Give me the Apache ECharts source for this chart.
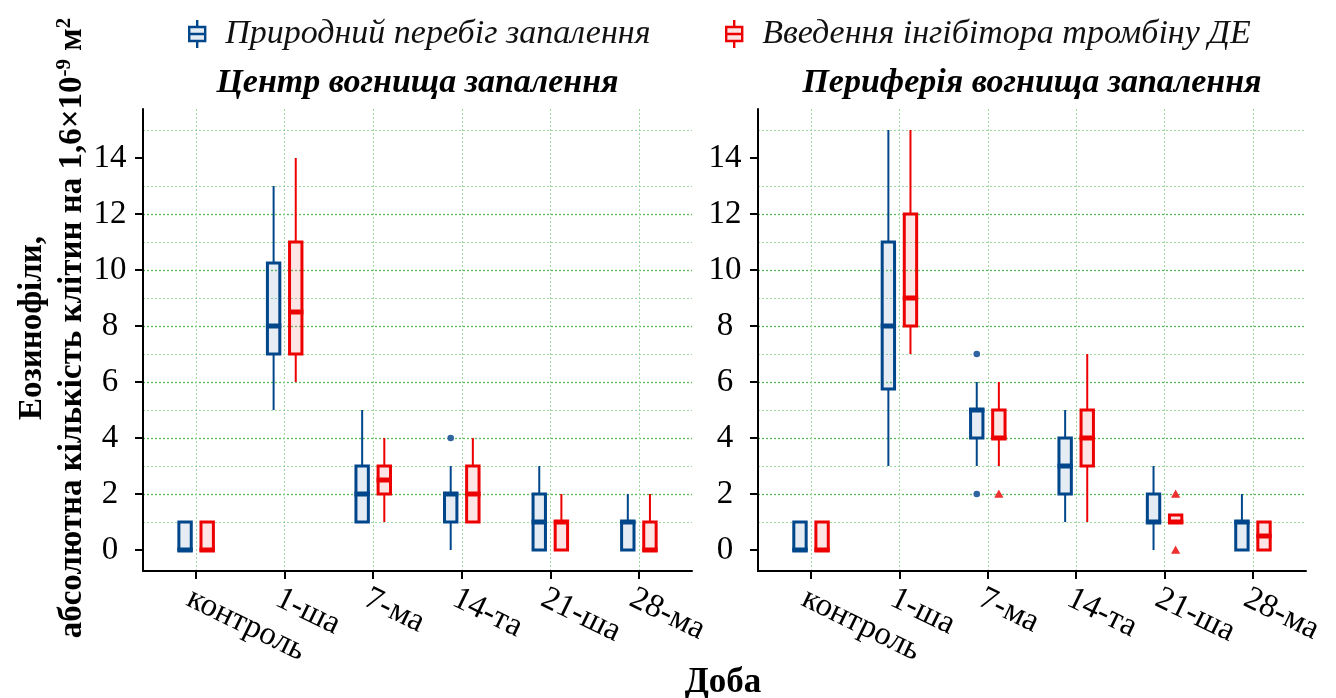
<!DOCTYPE html>
<html><head><meta charset="utf-8">
<script src="https://cdn.jsdelivr.net/npm/echarts@6/dist/echarts.min.js"></script>
<style>html,body{margin:0;padding:0;background:#fff}#c{width:1336px;height:698px}</style>
</head><body><div id="c"></div>
<script>
// ---------- data ----------
const categories = ['контроль', '1-ша', '7-ма', '14-та', '21-ша', '28-ма'];
const seriesNames = ['Природний перебіг запалення', 'Введення інгібітора тромбіну ДЕ'];
const panelTitles = ['Центр вогнища запалення', 'Периферія вогнища запалення'];
const yTicks = [0, 2, 4, 6, 8, 10, 12, 14];
// [min, q1, median, q3, max]
const centreNatural = [[0,0,0,1,1],[5,7,8,10.25,13],[1,1,2,3,5],[0,1,2,2,3],[0,0,1,2,3],[0,0,1,1,2]];
const centreInhib   = [[0,0,0,1,1],[6,7,8.5,11,14],[1,2,2.5,3,4],[1,1,2,3,4],[0,0,1,1,2],[0,0,0,1,2]];
const periphNatural = [[0,0,0,1,1],[3,5.75,8,11,15],[3,4,5,5,6],[1,2,3,4,5],[0,1,1,2,3],[0,0,1,1,2]];
const periphInhib   = [[0,0,0,1,1],[7,8,9,12,15],[3,4,4,5,6],[1,3,4,5,7],[1,1,1,1.25,1.25],[0,0,0.5,1,1]];
// outliers: [category index, value]
const centreNaturalOut = [[3,4]];
const centreInhibOut = [];
const periphNaturalOut = [[2,7],[2,2]];
const periphInhibOut = [[2,2],[4,2],[4,0]];

// ---------- style ----------
const FONT = '"Liberation Serif","Times New Roman",serif';
const FS = 33;
const BLUE = '#00468B', RED = '#ED0000';
const BLUE_FILL = 'rgba(0,70,139,0.1)', RED_FILL = 'rgba(237,0,0,0.1)';
const BLUE_PT = '#2f64a0', RED_PT = '#ee3030';
const OFFSET = 0.125, BOXW = 0.14;
const PANEL_TOP = 109, PANEL_H = 462;
const panels = [{left: 143, width: 549}, {left: 758, width: 548}];
const ICON = 'path://M9,0L9,7M1,7L17,7L17,21L1,21ZM1,14L17,14M9,21L9,28';

function boxRender(dir, stroke, fill) {
  return function (params, api) {
    const i = api.value(0);
    const band = api.size([1, 0])[0];
    const m = api.coord([i, api.value(3)]);
    const cx = m[0] + dir * OFFSET * band;
    const w = BOXW * band;
    const yMin = api.coord([i, api.value(1)])[1];
    const yQ1 = api.coord([i, api.value(2)])[1];
    const yQ3 = api.coord([i, api.value(4)])[1];
    const yMax = api.coord([i, api.value(5)])[1];
    const bw = 3;
    return {type: 'group', children: [
      {type: 'line', shape: {x1: cx, y1: yQ3, x2: cx, y2: yMax}, style: {stroke: stroke, lineWidth: 2}},
      {type: 'line', shape: {x1: cx, y1: yQ1, x2: cx, y2: yMin}, style: {stroke: stroke, lineWidth: 2}},
      {type: 'rect', shape: {x: cx - w / 2, y: yQ3, width: w, height: yQ1 - yQ3}, style: {fill: fill, stroke: stroke, lineWidth: bw}},
      {type: 'line', shape: {x1: cx - w / 2 - bw / 2, y1: m[1], x2: cx + w / 2 + bw / 2, y2: m[1]}, style: {stroke: stroke, lineWidth: 5}}
    ]};
  };
}
function outRender(dir, kind, color) {
  return function (params, api) {
    const i = api.value(0);
    const band = api.size([1, 0])[0];
    const p = api.coord([i, api.value(1)]);
    const x = p[0] + dir * OFFSET * band, y = p[1];
    if (kind === 'circle') return {type: 'circle', shape: {cx: x, cy: y, r: 3.3}, style: {fill: color}};
    const s = 4.6;
    return {type: 'polygon', shape: {points: [[x, y - s], [x + s, y + s * 0.8], [x - s, y + s * 0.8]]}, style: {fill: color}};
  };
}

const grids = [], xAxes = [], yAxes = [];
panels.forEach(function (p) {
  const band = p.width / 6.2;
  const gOuter = grids.length;
  grids.push({left: p.left, top: PANEL_TOP, width: p.width, height: PANEL_H, containLabel: false, outerBoundsMode: 'none'});
  grids.push({left: p.left + band * 0.6, top: PANEL_TOP, width: band * 5, height: PANEL_H, containLabel: false, outerBoundsMode: 'none'});
  xAxes.push({gridIndex: gOuter, type: 'value', min: 0, max: 1,
    axisLine: {show: true, onZero: false, lineStyle: {color: '#000', width: 2}},
    axisTick: {show: false}, axisLabel: {show: false}, splitLine: {show: false}});
  xAxes.push({gridIndex: gOuter + 1, type: 'category', data: categories, boundaryGap: false,
    axisLine: {show: false, onZero: false},
    axisTick: {show: true, length: 8, lineStyle: {color: '#000', width: 2}},
    axisLabel: {interval: 0, rotate: -26, align: 'left', verticalAlign: 'top', margin: 11,
      fontSize: FS, fontFamily: FONT, color: '#000'},
    splitLine: {show: true, lineStyle: {color: '#9dd79d', type: [2, 2], width: 1}}});
  yAxes.push({gridIndex: gOuter, type: 'value', min: -0.75, max: 15.75, splitNumber: 8,
    axisLine: {show: true, onZero: false, lineStyle: {color: '#000', width: 2}},
    axisTick: {show: true, length: 8, customValues: yTicks, lineStyle: {color: '#000', width: 2}},
    axisLabel: {customValues: yTicks,
      formatter: function (v) { return yTicks.indexOf(v) >= 0 ? String(v) : ''; },
      fontSize: FS, fontFamily: FONT, color: '#000', align: 'center', margin: 33},
    splitLine: {show: true, showMinLine: false, showMaxLine: false, lineStyle: {color: '#5dbd5d', type: [2, 2], width: 1.3}},
    minorTick: {show: false, splitNumber: 2},
    minorSplitLine: {show: true, lineStyle: {color: '#9fd89f', type: [2, 2], width: 1}}});
  yAxes.push({gridIndex: gOuter + 1, type: 'value', min: -0.75, max: 15.75, show: false});
});

function boxData(arr) { return arr.map(function (d, i) { return [i].concat(d); }); }

const panelData = [
  {nat: centreNatural, inh: centreInhib, natOut: centreNaturalOut, inhOut: centreInhibOut},
  {nat: periphNatural, inh: periphInhib, natOut: periphNaturalOut, inhOut: periphInhibOut}
];
const series = [];
panelData.forEach(function (pd, k) {
  const ax = k * 2 + 1;
  series.push({name: seriesNames[0], type: 'custom', xAxisIndex: ax, yAxisIndex: ax, itemStyle: {color: BLUE},
    renderItem: boxRender(-1, BLUE, BLUE_FILL), encode: {x: 0, y: [1, 2, 3, 4, 5]}, data: boxData(pd.nat), z: 3});
  series.push({name: seriesNames[1], type: 'custom', xAxisIndex: ax, yAxisIndex: ax, itemStyle: {color: RED},
    renderItem: boxRender(1, RED, RED_FILL), encode: {x: 0, y: [1, 2, 3, 4, 5]}, data: boxData(pd.inh), z: 3});
  series.push({name: seriesNames[0], type: 'custom', xAxisIndex: ax, yAxisIndex: ax, itemStyle: {color: BLUE},
    renderItem: outRender(-1, 'circle', BLUE_PT), encode: {x: 0, y: 1}, data: pd.natOut, z: 4});
  series.push({name: seriesNames[1], type: 'custom', xAxisIndex: ax, yAxisIndex: ax, itemStyle: {color: RED},
    renderItem: outRender(1, 'triangle', RED_PT), encode: {x: 0, y: 1}, data: pd.inhOut, z: 4});
});

const graphics = [];
panels.forEach(function (p, k) {
  graphics.push({type: 'text', x: p.left + p.width / 2, y: 83, style: {text: panelTitles[k],
    fontSize: 34, fontWeight: 'bold', fontStyle: 'italic', fontFamily: FONT, fill: '#000',
    align: 'center', verticalAlign: 'middle', textAlign: 'center', textVerticalAlign: 'middle'}});
});
graphics.push({type: 'text', x: 723, y: 683, style: {text: 'Доба', fontSize: 35, fontWeight: 'bold',
  fontFamily: FONT, fill: '#000', align: 'center', verticalAlign: 'middle', textAlign: 'center', textVerticalAlign: 'middle'}});
graphics.push({type: 'text', x: 52, y: 328, rotation: Math.PI / 2, style: {
  text: '{b|Еозинофіли,}\n{b|абсолютна кількість клітин на 1,6×10}{s|-9}{b| м}{s|2}',
  rich: {b: {fontSize: 33, fontWeight: 'bold', fontFamily: FONT, lineHeight: 40, fill: '#000'},
         s: {fontSize: 21, fontWeight: 'bold', fontFamily: FONT, lineHeight: 40, verticalAlign: 'top', padding: [2, 0, 0, 0], fill: '#000'}},
  align: 'center', verticalAlign: 'middle', textAlign: 'center', textVerticalAlign: 'middle', fill: '#000'}});

const legendText = {fontFamily: FONT, fontStyle: 'italic', fontSize: 34, color: '#111', padding: [0, 0, 0, 14]};
const chart = echarts.init(document.getElementById('c'), null, {renderer: 'canvas'});
chart.setOption({
  animation: false,
  backgroundColor: '#fff',
  legend: [
    {top: 12, left: 183, itemWidth: 18, itemHeight: 28, selectedMode: false, textStyle: legendText,
      data: [{name: seriesNames[0], icon: ICON, itemStyle: {color: BLUE_FILL, borderColor: BLUE, borderWidth: 2.4}}]},
    {top: 12, left: 720, itemWidth: 18, itemHeight: 28, selectedMode: false, textStyle: legendText,
      data: [{name: seriesNames[1], icon: ICON, itemStyle: {color: RED_FILL, borderColor: RED, borderWidth: 2.4}}]}
  ],
  grid: grids, xAxis: xAxes, yAxis: yAxes, series: series, graphic: graphics
});
</script></body></html>
